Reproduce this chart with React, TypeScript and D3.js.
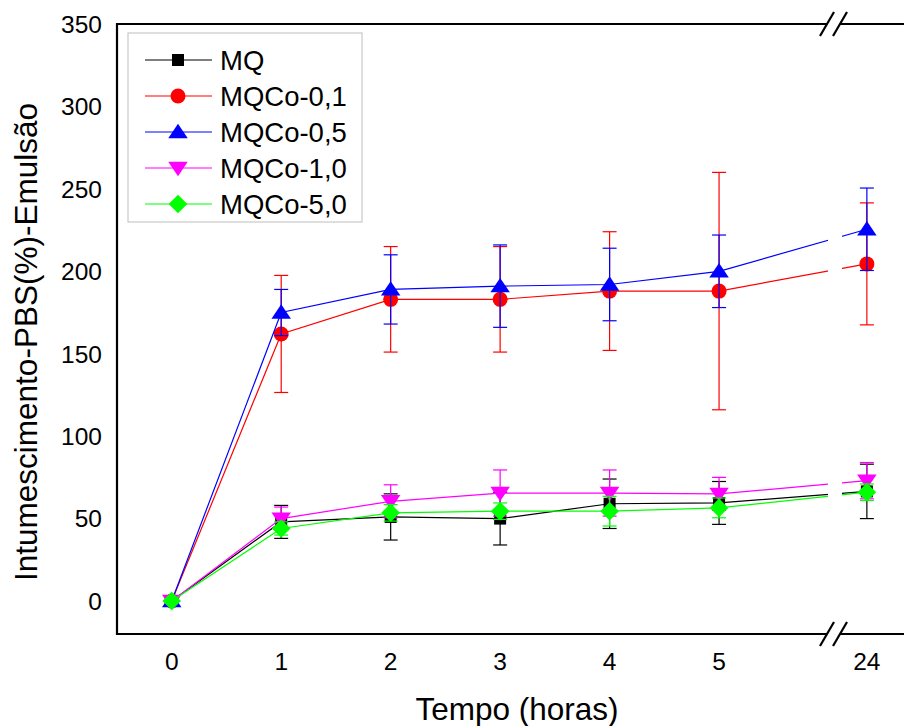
import React from 'react';
import * as d3 from 'd3';

// hours on the x axis (24 sits after an axis break)
const hours = [0, 1, 2, 3, 4, 5, 24];
const yTicks = [0, 50, 100, 150, 200, 250, 300, 350];

const seriesNames = ['MQ', 'MQCo-0,1', 'MQCo-0,5', 'MQCo-1,0', 'MQCo-5,0'];
const seriesColors = ['#000000', '#ff0000', '#0000ff', '#ff00ff', '#00ff00'];
const seriesShapes = ['square', 'circle', 'triangleUp', 'triangleDown', 'diamond'];

const mqValues = [0, 48, 51, 50, 59, 59.5, 66.5];
const mqErrors = [0, 10, 14, 16, 15, 13, 16.5];
const co01Values = [0, 162, 183, 183, 188, 188, 204.5];
const co01Errors = [0, 35.5, 32, 32, 36, 72, 37];
const co05Values = [0, 175, 189, 191, 192, 200, 225.5];
const co05Errors = [0, 14, 21, 25, 22, 22, 25];
const co10Values = [0, 50, 60.5, 65.5, 65.5, 65, 73];
const co10Errors = [0, 7, 10, 14, 14, 10, 11];
const co50Values = [0, 44, 53.5, 54.5, 54.5, 56.5, 66];
const co50Errors = [0, 4, 5, 5, 9, 6, 5];

const allValues = [mqValues, co01Values, co05Values, co10Values, co50Values];
const allErrors = [mqErrors, co01Errors, co05Errors, co10Errors, co50Errors];

const W = 904;
const H = 726;
const M = { top: 24, left: 117, bottom: 634 };
const FONT = '"Liberation Sans", Arial, Helvetica, sans-serif';

// broken axis: segment [-0.5, 6.05] then jump to [23.7, ...]
const xScale = d3.scaleLinear()
  .domain([-0.5, 6.05, 23.7, 26])
  .range([M.left, 834, 834, 1086]);
const yScale = d3.scaleLinear().domain([-20, 350]).range([M.bottom, M.top]);
const breakX = xScale(6.05);

// custom marker shapes
const shapes = {
  square: { draw(ctx, s) { const r = s / 2; ctx.rect(-r, -r, s, s); } },
  circle: { draw(ctx, s) { const r = s / 2; ctx.moveTo(r, 0); ctx.arc(0, 0, r, 0, 2 * Math.PI); } },
  triangleUp: {
    draw(ctx, s) { const w = s * 0.65, h = s * 0.55; ctx.moveTo(0, -h); ctx.lineTo(w, h * 0.75); ctx.lineTo(-w, h * 0.75); ctx.closePath(); },
  },
  triangleDown: {
    draw(ctx, s) { const w = s * 0.65, h = s * 0.55; ctx.moveTo(0, h); ctx.lineTo(w, -h * 0.75); ctx.lineTo(-w, -h * 0.75); ctx.closePath(); },
  },
  diamond: {
    draw(ctx, s) { const r = s * 0.62; ctx.moveTo(0, -r); ctx.lineTo(r, 0); ctx.lineTo(0, r); ctx.lineTo(-r, 0); ctx.closePath(); },
  },
};
const markerSize = { square: 12, circle: 15, triangleUp: 15, triangleDown: 15, diamond: 15 };

function markerPath(shape) {
  return d3.symbol().type(shapes[shape]).size(markerSize[shape])();
}

function BreakMark({ x, y }) {
  return (
    <g stroke="#000" strokeWidth={2.2}>
      <line x1={x - 14} y1={y + 12} x2={x} y2={y - 12} />
      <line x1={x - 1} y1={y + 12} x2={x + 13} y2={y - 12} />
    </g>
  );
}

export default function App() {
  const line = d3.line<number>()
    .x((_, i) => xScale(hours[i]))
    .y((d) => yScale(d));

  const legendRows = [60, 96, 132, 168, 204];

  return (
    <div>
      <style>{'body{margin:0}'}</style>
      <svg width={W} height={H} style={{ display: 'block', background: '#fff' }} fontFamily={FONT}>
        <defs>
          <clipPath id="gap">
            <rect x={0} y={0} width={breakX - 6} height={H} />
            <rect x={breakX + 8} y={0} width={W} height={H} />
          </clipPath>
        </defs>

        {/* frame */}
        <g stroke="#000" strokeWidth={2.2} fill="none">
          <line x1={M.left} y1={M.top - 1} x2={M.left} y2={M.bottom + 1} />
          <line x1={M.left} y1={M.top} x2={breakX - 7} y2={M.top} />
          <line x1={breakX + 6} y1={M.top} x2={W} y2={M.top} />
          <line x1={M.left} y1={M.bottom} x2={breakX - 7} y2={M.bottom} />
          <line x1={breakX + 6} y1={M.bottom} x2={W} y2={M.bottom} />
        </g>
        <BreakMark x={breakX} y={M.top} />
        <BreakMark x={breakX} y={M.bottom} />

        {/* y ticks */}
        {yTicks.map((t) => (
          <text key={t} x={102} y={yScale(t)} dy="0.36em" textAnchor="end" fontSize={24.5}>{t}</text>
        ))}
        {/* x ticks */}
        {hours.map((h) => (
          <text key={h} x={xScale(h)} y={670} textAnchor="middle" fontSize={24.5}>{h}</text>
        ))}

        <text x={517} y={720} textAnchor="middle" fontSize={31.5}>Tempo (horas)</text>
        <text transform="translate(37,342) rotate(-90)" textAnchor="middle" fontSize={31.5}>
          Intumescimento-PBS(%)-Emulsão
        </text>

        {/* series */}
        {allValues.map((vals, si) => {
          const color = seriesColors[si];
          const errs = allErrors[si];
          const path = markerPath(seriesShapes[si]);
          return (
            <g key={si}>
              <path d={line(vals)} fill="none" stroke={color} strokeWidth={1.2} clipPath="url(#gap)" />
              {vals.map((v, i) => errs[i] > 0 && (
                <g key={i} stroke={color} strokeWidth={1.2}>
                  <line x1={xScale(hours[i])} x2={xScale(hours[i])} y1={yScale(v - errs[i])} y2={yScale(v + errs[i])} />
                  <line x1={xScale(hours[i]) - 7} x2={xScale(hours[i]) + 7} y1={yScale(v - errs[i])} y2={yScale(v - errs[i])} />
                  <line x1={xScale(hours[i]) - 7} x2={xScale(hours[i]) + 7} y1={yScale(v + errs[i])} y2={yScale(v + errs[i])} />
                </g>
              ))}
              {vals.map((v, i) => (
                <path key={'m' + i} d={path} transform={`translate(${xScale(hours[i])},${yScale(v)})`} fill={color} />
              ))}
            </g>
          );
        })}

        {/* legend */}
        <rect x={128} y={33} width={234} height={189} fill="#fff" stroke="#c8c8c8" strokeWidth={1.2} />
        {seriesNames.map((name, i) => (
          <g key={name}>
            <line x1={145} x2={212} y1={legendRows[i]} y2={legendRows[i]} stroke={seriesColors[i]} strokeWidth={1.2} />
            <path d={markerPath(seriesShapes[i])} transform={`translate(178,${legendRows[i]})`} fill={seriesColors[i]} />
            <text x={220} y={legendRows[i] + 10} fontSize={27.5}>{name}</text>
          </g>
        ))}
      </svg>
    </div>
  );
}
